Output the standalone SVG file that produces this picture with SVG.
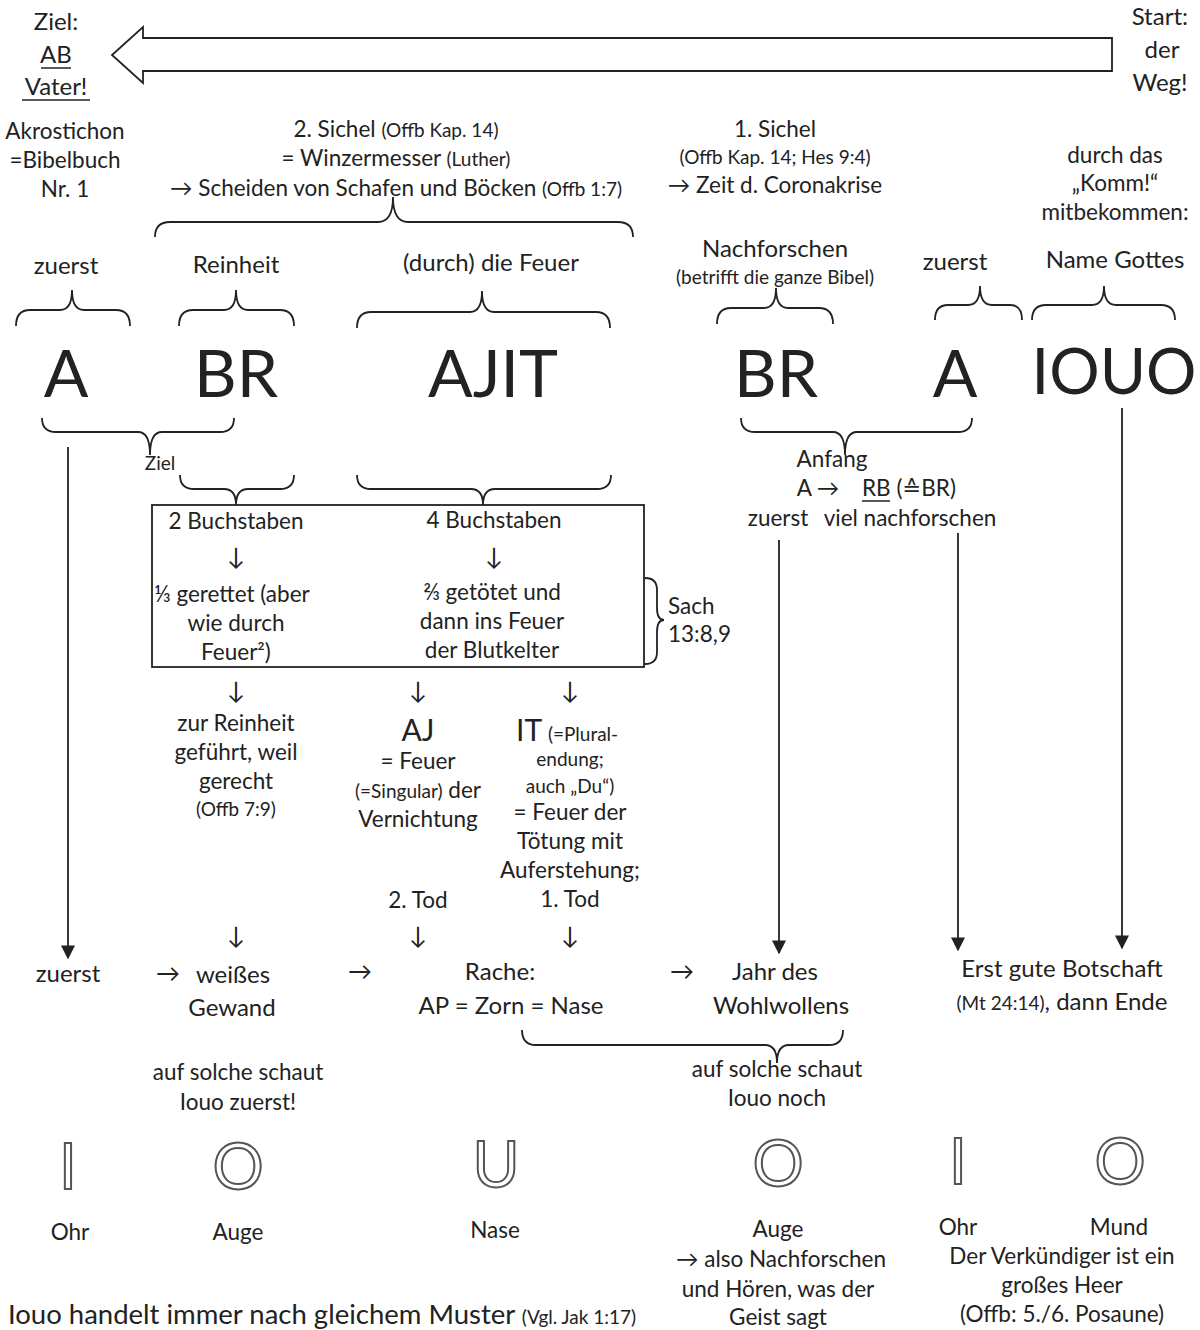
<svg xmlns="http://www.w3.org/2000/svg" width="1200" height="1330" viewBox="0 0 1200 1330">
<defs>
<style>
text{font-family:Lato,"Liberation Sans","DejaVu Sans",sans-serif;fill:#222;font-size:22.5px;text-anchor:middle}
.s{font-size:19px}
.m{font-size:24px}
.l{font-size:24px}
.big{font-size:66px}
.mid{font-size:30px}
.ol{font-size:64px;fill:#fff;stroke:#555;stroke-width:2}
.st{text-anchor:start}
.en{text-anchor:end}
.ln{fill:none;stroke:#222;stroke-width:1.8}
.ul{stroke:#222;stroke-width:1.5}
</style>
<marker id="ah" viewBox="0 0 10 10" refX="9" refY="5" markerWidth="14" markerHeight="14" markerUnits="userSpaceOnUse" orient="auto">
<path d="M0,0 L10,5 L0,10 Z" fill="#222"/>
</marker>
</defs>
<rect width="1200" height="1330" fill="#fff"/>

<g id="way">
<polygon class="ln" points="1112,38 143,38 143,27 112,55 143,83 143,71 1112,71"/>
<text x="56" y="30" class="m">Ziel:</text>
<text x="56" y="63" class="m">AB</text>
<line class="ul" x1="41" y1="68" x2="71" y2="68"/>
<text x="56" y="95" class="m">Vater!</text>
<line class="ul" x1="22" y1="100" x2="90" y2="100"/>
<text x="1188" y="25" class="m en">Start:</text>
<text x="1162" y="58" class="m">der</text>
<text x="1160" y="91" class="m">Weg!</text>
</g>

<g id="akrostichon">
<text x="65" y="139">Akrostichon</text>
<text x="65" y="168">=Bibelbuch</text>
<text x="65" y="197">Nr. 1</text>
</g>

<g id="sichel2">
<text x="396" y="137">2. Sichel <tspan class="s">(Offb Kap. 14)</tspan></text>
<text x="396" y="166">= Winzermesser <tspan class="s">(Luther)</tspan></text>
<text x="396" y="196">→ Scheiden von Schafen und Böcken <tspan class="s">(Offb 1:7)</tspan></text>
</g>

<g id="sichel1">
<text x="775" y="137">1. Sichel</text>
<text x="775" y="164" class="s">(Offb Kap. 14; Hes 9:4)</text>
<text x="775" y="193">→ Zeit d. Coronakrise</text>
</g>

<g id="komm">
<text x="1115" y="163">durch das</text>
<text x="1115" y="191">„Komm!“</text>
<text x="1115" y="220">mitbekommen:</text>
</g>

<g id="labels">
<text x="66" y="274" class="m">zuerst</text>
<text x="236" y="273" class="m">Reinheit</text>
<text x="491" y="271" class="m">(durch) die Feuer</text>
<text x="775" y="257" class="m">Nachforschen</text>
<text x="775" y="284" class="s">(betrifft die ganze Bibel)</text>
<text x="955" y="270" class="m">zuerst</text>
<text x="1115" y="268" class="m">Name Gottes</text>
</g>

<g id="letters">
<text x="66" y="397" class="big">A</text>
<text x="236" y="397" class="big">BR</text>
<text x="493" y="397" class="big">AJIT</text>
<text x="776" y="397" class="big">BR</text>
<text x="955" y="397" class="big">A</text>
<text x="1114" y="394" class="big" style="font-size:63px">IOUO</text>
</g>

<g id="braces">
<path class="ln" d="M155,237 Q155,222 170,222 L378,222 Q393,222 393,197 Q393,222 408,222 L618,222 Q633,222 633,237"/>
<path class="ln" d="M16,326 Q16,310 30,310 L60,310 Q72,310 72,290 Q72,310 84,310 L116,310 Q130,310 130,326"/>
<path class="ln" d="M179,326 Q179,310 193,310 L224,310 Q236,310 236,290 Q236,310 248,310 L280,310 Q294,310 294,326"/>
<path class="ln" d="M357,328 Q357,312 371,312 L470,312 Q482,312 482,291 Q482,312 494,312 L596,312 Q610,312 610,328"/>
<path class="ln" d="M717,324 Q717,308 731,308 L764,308 Q776,308 776,288 Q776,308 788,308 L819,308 Q833,308 833,324"/>
<path class="ln" d="M935,320 Q935,305 948,305 L968,305 Q980,305 980,286 Q980,305 992,305 L1010,305 Q1022,305 1022,320"/>
<path class="ln" d="M1032,320 Q1032,305 1046,305 L1092,305 Q1104,305 1104,286 Q1104,305 1116,305 L1161,305 Q1175,305 1175,320"/>
<path class="ln" d="M42,418 Q42,432 56,432 L138,432 Q150,432 150,455 Q150,432 162,432 L220,432 Q234,432 234,418"/>
<path class="ln" d="M741,418 Q741,432 755,432 L833,432 Q845,432 845,455 Q845,432 857,432 L958,432 Q972,432 972,418"/>
<path class="ln" d="M180,475 Q180,489 194,489 L224,489 Q236,489 236,505 Q236,489 248,489 L280,489 Q294,489 294,475"/>
<path class="ln" d="M357,475 Q357,489 371,489 L471,489 Q483,489 483,505 Q483,489 495,489 L597,489 Q611,489 611,475"/>
<path class="ln" d="M645,578 Q657,578 657,590 L657,608 Q657,620 664,620 Q657,620 657,632 L657,652 Q657,664 645,664"/>
<path class="ln" d="M522,1030 Q522,1045 536,1045 L765,1045 Q777,1045 777,1063 Q777,1045 789,1045 L829,1045 Q843,1045 843,1030"/>
</g>

<g id="ziel">
<text x="160" y="470" class="s">Ziel</text>
</g>

<g id="anfang">
<text x="832" y="467">Anfang</text>
<text x="818" y="496">A →</text>
<text x="862" y="496" class="st">RB (≙BR)</text>
<line class="ul" x1="862" y1="501" x2="890" y2="501"/>
<text x="778" y="526">zuerst</text>
<text x="910" y="526">viel nachforschen</text>
</g>

<g id="box">
<rect x="152" y="505" width="492" height="162" class="ln"/>
<text x="236" y="529">2 Buchstaben</text>
<text x="494" y="528">4 Buchstaben</text>
<text x="236" y="565" class="l">↓</text>
<text x="494" y="565" class="l">↓</text>
<text x="232" y="602">⅓ gerettet (aber</text>
<text x="236" y="631">wie durch</text>
<text x="236" y="660">Feuer²)</text>
<text x="492" y="600">⅔ getötet und</text>
<text x="492" y="629">dann ins Feuer</text>
<text x="492" y="658">der Blutkelter</text>
</g>

<g id="sach">
<text x="668" y="614" class="st">Sach</text>
<text x="668" y="642" class="st">13:8,9</text>
</g>

<g id="branches">
<text x="236" y="699" class="l">↓</text>
<text x="418" y="699" class="l">↓</text>
<text x="570" y="699" class="l">↓</text>
<text x="236" y="731">zur Reinheit</text>
<text x="236" y="760">geführt, weil</text>
<text x="236" y="789">gerecht</text>
<text x="236" y="816" class="s">(Offb 7:9)</text>
<text x="418" y="741" class="mid">AJ</text>
<text x="418" y="769">= Feuer</text>
<text x="418" y="798"><tspan class="s">(=Singular)</tspan> der</text>
<text x="418" y="827">Vernichtung</text>
<text x="516" y="741" class="st"><tspan class="mid">IT</tspan> <tspan class="s">(=Plural-</tspan></text>
<text x="570" y="766" class="s">endung;</text>
<text x="570" y="793" class="s">auch „Du“)</text>
<text x="570" y="820">= Feuer der</text>
<text x="570" y="849">Tötung mit</text>
<text x="570" y="878">Auferstehung;</text>
<text x="570" y="907">1. Tod</text>
<text x="418" y="908">2. Tod</text>
<text x="236" y="944" class="l">↓</text>
<text x="418" y="944" class="l">↓</text>
<text x="570" y="944" class="l">↓</text>
</g>

<g id="connectors">
<line class="ln" x1="68" y1="447" x2="68" y2="958" marker-end="url(#ah)"/>
<line class="ln" x1="779" y1="540" x2="779" y2="953" marker-end="url(#ah)"/>
<line class="ln" x1="958" y1="533" x2="958" y2="950" marker-end="url(#ah)"/>
<line class="ln" x1="1122" y1="408" x2="1122" y2="948" marker-end="url(#ah)"/>
</g>

<g id="sequence">
<text x="68" y="982" class="m">zuerst</text>
<text x="168" y="982" class="m">→</text>
<text x="233" y="983" class="m">weißes</text>
<text x="232" y="1016" class="m">Gewand</text>
<text x="360" y="980" class="m">→</text>
<text x="500" y="980" class="m">Rache:</text>
<text x="511" y="1014" class="m">AP = Zorn = Nase</text>
<text x="682" y="980" class="m">→</text>
<text x="775" y="980" class="m">Jahr des</text>
<text x="781" y="1014" class="m">Wohlwollens</text>
<text x="1062" y="977" class="m">Erst gute Botschaft</text>
<text x="1062" y="1010"><tspan class="s">(Mt 24:14)</tspan><tspan class="m">, dann Ende</tspan></text>
</g>

<g id="schaut">
<text x="238" y="1080">auf solche schaut</text>
<text x="238" y="1110">Iouo zuerst!</text>
<text x="777" y="1077">auf solche schaut</text>
<text x="777" y="1106">Iouo noch</text>
</g>

<g id="senses">
<text x="68" y="1189" class="ol">I</text>
<text x="238" y="1189" class="ol">O</text>
<text x="496" y="1187" class="ol">U</text>
<text x="778" y="1186" class="ol">O</text>
<text x="958" y="1184" class="ol">I</text>
<text x="1120" y="1184" class="ol">O</text>
<text x="70" y="1240">Ohr</text>
<text x="238" y="1240">Auge</text>
<text x="495" y="1238">Nase</text>
<text x="778" y="1237">Auge</text>
<text x="958" y="1235">Ohr</text>
<text x="1119" y="1235">Mund</text>
<text x="781" y="1267">→ also Nachforschen</text>
<text x="778" y="1297">und Hören, was der</text>
<text x="778" y="1325">Geist sagt</text>
<text x="1062" y="1264">Der Verkündiger ist ein</text>
<text x="1062" y="1293">großes Heer</text>
<text x="1062" y="1322">(Offb: 5./6. Posaune)</text>
</g>

<g id="footer">
<text x="8" y="1324" class="st" style="font-size:27.5px">Iouo handelt immer nach gleichem Muster <tspan class="s">(Vgl. Jak 1:17)</tspan></text>
</g>
</svg>
